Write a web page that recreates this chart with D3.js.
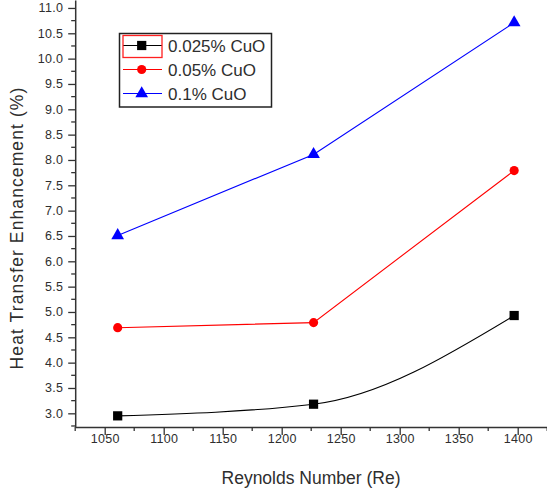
<!DOCTYPE html>
<html>
<head>
<meta charset="utf-8">
<script src="https://cdn.jsdelivr.net/npm/d3@7"></script>
<style>
  body { margin: 0; background: #fff; }
  svg { display: block; font-family: "Liberation Sans", Arial, sans-serif; }
</style>
</head>
<body>
<svg id="chart" width="547" height="490"></svg>
<script>
// data
let reynolds = [1061, 1227, 1397];
let cuo0025 = [2.95, 3.18, 4.93];
let cuo005 = [4.69, 4.79, 7.79];
let cuo01 = [6.51, 8.11, 10.71];
let seriesNames = ["0.025% CuO", "0.05% CuO", "0.1% CuO"];
let xTicks = [1050, 1100, 1150, 1200, 1250, 1300, 1350, 1400];
let yTicks = [3.0, 3.5, 4.0, 4.5, 5.0, 5.5, 6.0, 6.5, 7.0, 7.5, 8.0, 8.5, 9.0, 9.5, 10.0, 10.5, 11.0];

let series = [
    { name: seriesNames[0], values: cuo0025, color: "#000000", marker: "square", curve: d3.curveMonotoneX },
    { name: seriesNames[1], values: cuo005, color: "#ff0000", marker: "circle", curve: d3.curveLinear },
    { name: seriesNames[2], values: cuo01, color: "#0000ff", marker: "triangle", curve: d3.curveLinear },
];

// plot box (no top/right frame in the original)
let plotLeft = 75.2, plotRight = 547.2, plotTop = 0, plotBottom = 427;
let textColor = "#2e2e2e";

let svg = d3.select("#chart");
let x = d3.scaleLinear().domain([1025, 1425]).range([plotLeft, plotRight]);
let y = d3.scaleLinear().domain([2.73, 11.157]).range([plotBottom, plotTop]);

function markerPath(kind) {
    if (kind == "square") return d3.symbol(d3.symbolSquare, 85)();
    if (kind == "circle") return d3.symbol(d3.symbolCircle, 66)();
    return d3.symbol(d3.symbolTriangle, 70)();
}

// lines first, markers on top
let g = svg.append("g");
series.forEach(s => {
    let line = d3.line()
        .x((d, i) => x(reynolds[i]))
        .y(d => y(d))
        .curve(s.curve);
    g.append("path")
        .attr("d", line(s.values))
        .attr("fill", "none")
        .attr("stroke", s.color)
        .attr("stroke-width", 1.1);
    g.selectAll(null)
        .data(s.values)
        .join("path")
        .attr("d", markerPath(s.marker))
        .attr("transform", (d, i) => `translate(${x(reynolds[i])},${y(d)})`)
        .attr("fill", s.color);
});

// x axis, major + minor ticks
let xMinor = d3.range(1025, 1426, 50);
let gx = svg.append("g").attr("transform", `translate(0,${plotBottom})`);
gx.call(d3.axisBottom(x).tickValues(xTicks).tickSize(8).tickSizeOuter(0).tickFormat(d3.format("d")));
gx.append("g").selectAll("line").data(xMinor).join("line")
    .attr("x1", d => x(d)).attr("x2", d => x(d))
    .attr("y1", 0).attr("y2", 4)
    .attr("stroke", "#333").attr("stroke-width", 1.3);
gx.select(".domain").attr("stroke", "#333").attr("stroke-width", 1.5);
gx.selectAll(".tick line").attr("stroke", "#333").attr("stroke-width", 1.3);
gx.selectAll(".tick text")
    .attr("y", 16).attr("dy", 0)
    .attr("font-size", 12.5).attr("letter-spacing", 0.3).attr("fill", textColor);
gx.attr("font-family", null);

// y axis
let yMinor = d3.range(2.75, 11.1, 0.5);
let gy = svg.append("g").attr("transform", `translate(${plotLeft},0)`);
gy.call(d3.axisLeft(y).tickValues(yTicks).tickSize(7).tickSizeOuter(0).tickFormat(d3.format(".1f")));
gy.append("g").selectAll("line").data(yMinor).join("line")
    .attr("y1", d => y(d)).attr("y2", d => y(d))
    .attr("x1", 0).attr("x2", -4)
    .attr("stroke", "#333").attr("stroke-width", 1.3);
gy.select(".domain").attr("stroke", "#333").attr("stroke-width", 1.5);
gy.selectAll(".tick line").attr("stroke", "#333").attr("stroke-width", 1.3);
gy.selectAll(".tick text")
    .attr("x", -12)
    .attr("font-size", 12.5).attr("letter-spacing", 0.3).attr("fill", textColor);
gy.attr("font-family", null);

// axis titles
svg.append("text")
    .attr("x", 311).attr("y", 484)
    .attr("text-anchor", "middle")
    .attr("font-size", 17.5).attr("fill", textColor)
    .text("Reynolds Number (Re)");
svg.append("text")
    .attr("transform", "translate(22.5,228) rotate(-90)")
    .attr("text-anchor", "middle")
    .attr("font-size", 17.5).attr("letter-spacing", 1.1).attr("fill", textColor)
    .text("Heat Transfer Enhancement (%)");

// legend
let legend = svg.append("g");
legend.append("rect")
    .attr("x", 119.5).attr("y", 33.5).attr("width", 152).attr("height", 73.5)
    .attr("fill", "#fff").attr("stroke", "#222").attr("stroke-width", 1.5);
series.forEach((s, i) => {
    let cy = 45.5 + i * 24;
    legend.append("line")
        .attr("x1", 123).attr("x2", 162).attr("y1", cy).attr("y2", cy)
        .attr("stroke", s.color).attr("stroke-width", 1.2);
    legend.append("path")
        .attr("d", markerPath(s.marker))
        .attr("transform", `translate(141.7,${cy})`)
        .attr("fill", s.color);
    legend.append("text")
        .attr("x", 168).attr("y", cy + 6.5)
        .attr("font-size", 17).attr("fill", textColor)
        .text(s.name);
});
// selection box Origin left around the first legend entry
legend.append("rect")
    .attr("x", 123).attr("y", 35.5).attr("width", 39).attr("height", 22)
    .attr("fill", "none").attr("stroke", "#ff2020").attr("stroke-width", 1.3);
</script>
</body>
</html>
